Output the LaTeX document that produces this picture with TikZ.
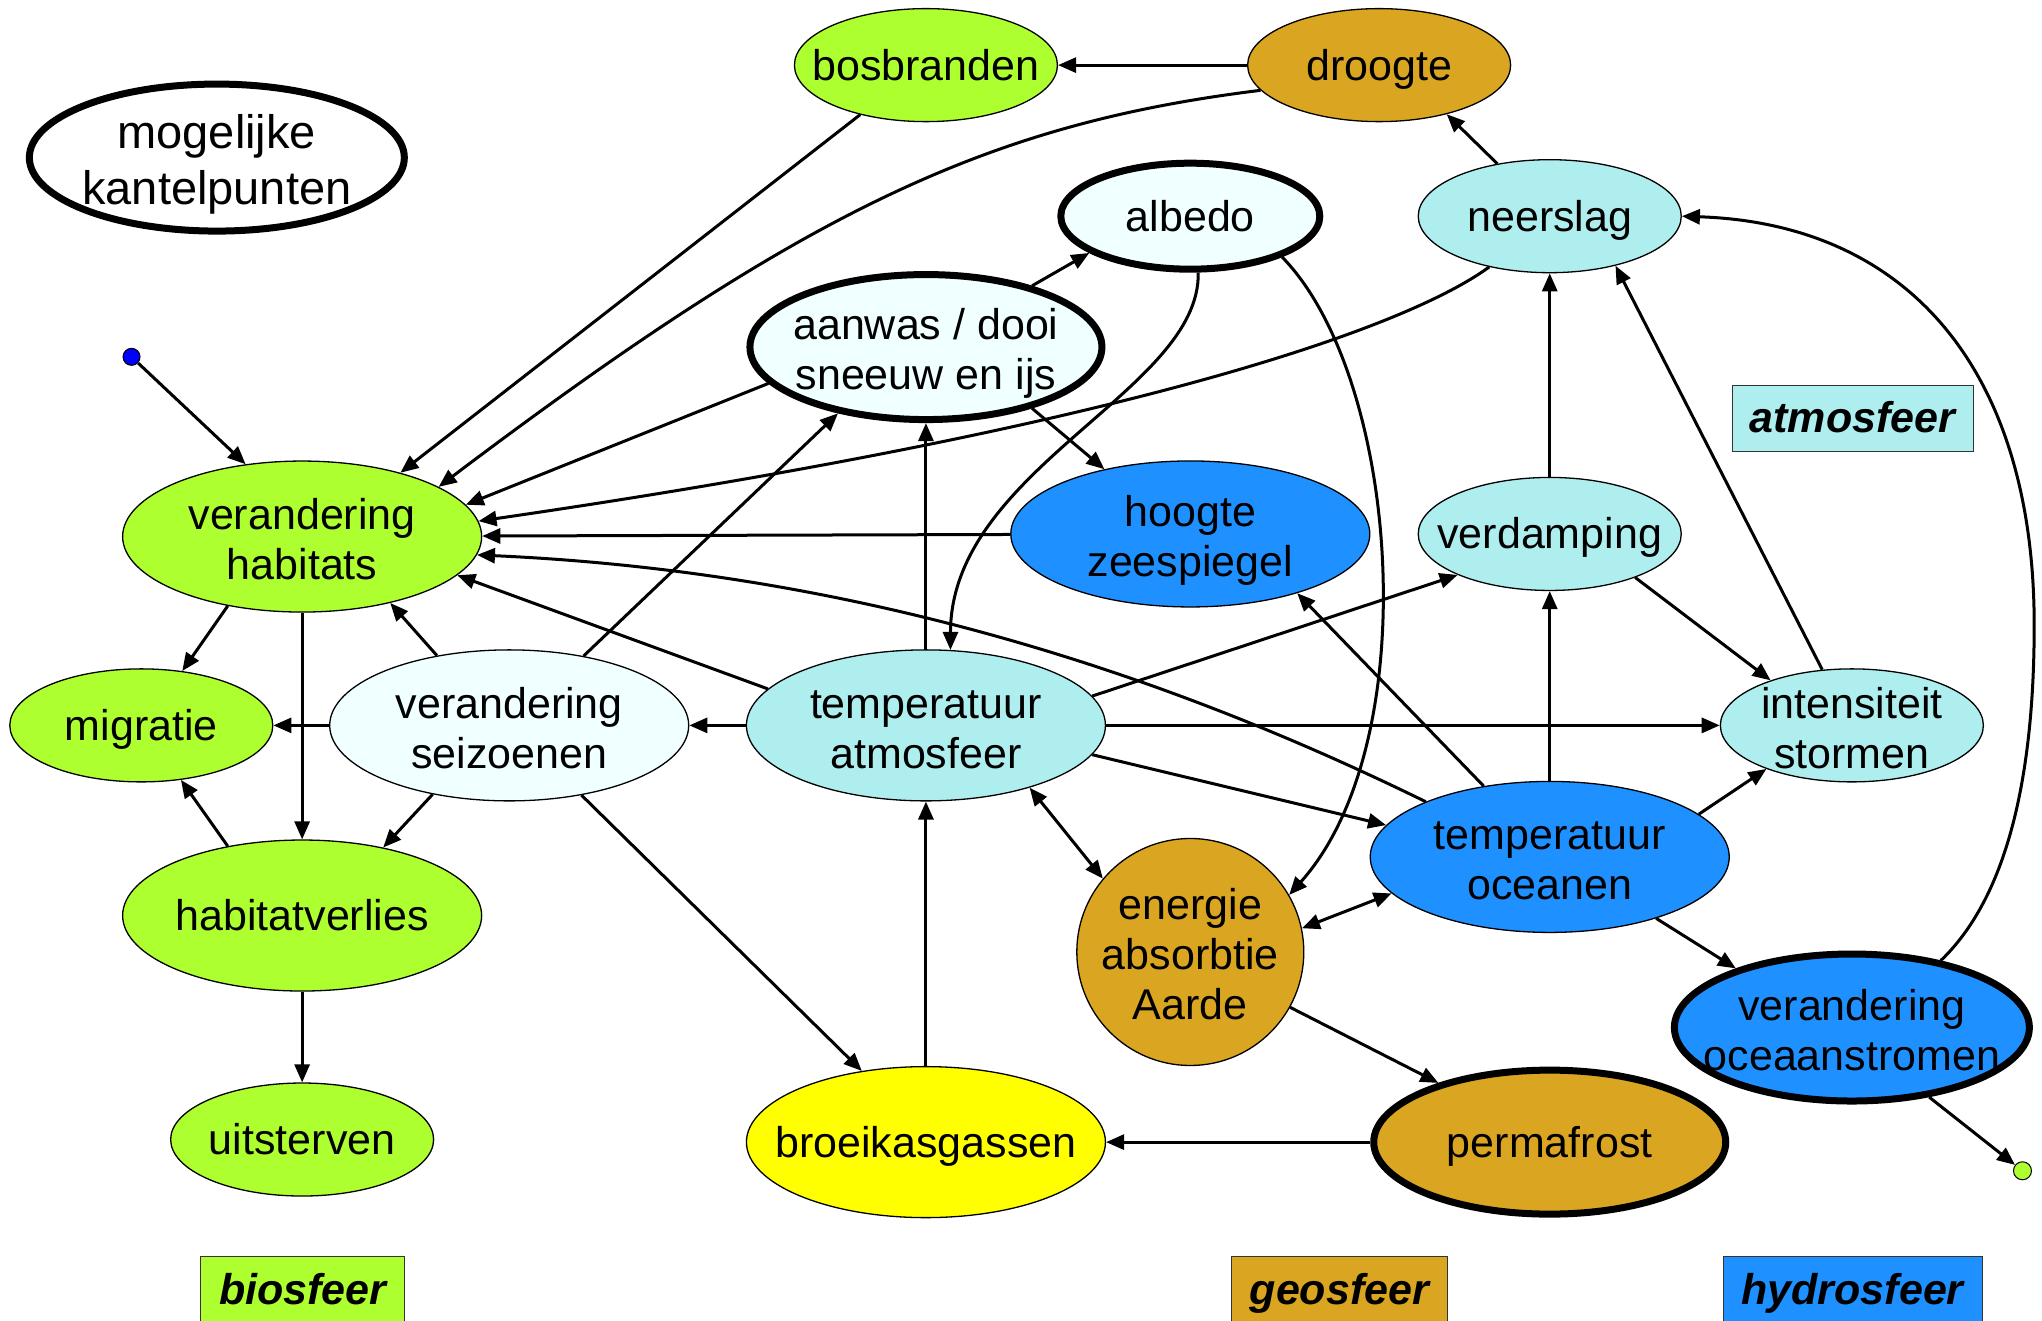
\documentclass[tikz,border=0pt]{standalone}
\usepackage{fontspec}
\setmainfont{Liberation Sans}
\usetikzlibrary{shapes.geometric,arrows.meta}
\definecolor{bio}{HTML}{ADFF2F}
\definecolor{geo}{HTML}{DAA520}
\definecolor{atm}{HTML}{AFEEEE}
\definecolor{pale}{HTML}{F0FFFF}
\definecolor{hyd}{HTML}{1E90FF}
\definecolor{gas}{HTML}{FFFF00}
% invisible strut giving every text line the same ascent and descent
\newcommand\lnstrut{\rule[-0.212em]{0pt}{1.117em}}
\begin{document}
\begin{tikzpicture}[x=1.3023pt, y=-1.3023pt,
  tx/.style={align=center, inner sep=0pt, font=\fontsize{43}{50}\selectfont},
  txm/.style={tx, yshift=-3pt},
  ell/.style={ellipse, draw, line width=1.3pt, inner sep=0pt},
  small/.style={ell, minimum width=263pt, minimum height=113pt},
  big/.style={ell, minimum width=359pt, minimum height=151pt},
  heavy/.style={ellipse, draw, line width=7pt, inner sep=0pt},
  con/.style={line width=3pt, -{Triangle[length=18pt,width=15pt]}},
  both/.style={line width=3pt, {Triangle[length=18pt,width=15pt]}-{Triangle[length=18pt,width=15pt]}},
  legend/.style={draw=black!80, line width=1pt, minimum height=66pt, inner sep=0pt,
    font=\fontsize{43}{50}\selectfont\bfseries\itshape}
]
\useasboundingbox (0,0) rectangle (1568,1013.6);

% nodes
\node[small, fill=bio] (bos) at (711,50) {};
\node[tx] (bos-t) at (bos) {\lnstrut bosbranden};
\node[small, fill=geo] (dro) at (1059,50) {};
\node[tx] (dro-t) at (dro) {\lnstrut droogte};
\node[heavy, fill=white, minimum width=375pt, minimum height=147pt] (kp) at (166.5,121) {};
\node[txm, font=\fontsize{47}{56}\selectfont] (kp-t) at (kp) {\lnstrut mogelijke\\\lnstrut kantelpunten};
\node[heavy, fill=pale, minimum width=259pt, minimum height=106pt] (alb) at (914,166) {};
\node[tx] (alb-t) at (alb) {\lnstrut albedo};
\node[small, fill=atm] (neer) at (1190,166) {};
\node[tx] (neer-t) at (neer) {\lnstrut neerslag};
\node[heavy, fill=pale, minimum width=352pt, minimum height=145pt] (aan) at (711,266.5) {};
\node[txm] (aan-t) at (aan) {\lnstrut aanwas / dooi\\\lnstrut sneeuw en ijs};
\node[big, fill=bio] (hab) at (232,412) {};
\node[txm] (hab-t) at (hab) {\lnstrut verandering\\\lnstrut habitats};
\node[big, fill=hyd, minimum height=146pt] (hz) at (914,410) {};
\node[txm] (hz-t) at (hz) {\lnstrut hoogte\\\lnstrut zeespiegel};
\node[small, fill=atm] (verd) at (1190,410) {};
\node[tx] (verd-t) at (verd) {\lnstrut verdamping};
\node[small, fill=bio] (mig) at (108.5,557) {};
\node[tx] (mig-t) at (mig) {\lnstrut migratie};
\node[big, fill=pale] (seiz) at (391,557) {};
\node[txm] (seiz-t) at (seiz) {\lnstrut verandering\\\lnstrut seizoenen};
\node[big, fill=atm] (ta) at (711,557) {};
\node[txm] (ta-t) at (ta) {\lnstrut temperatuur\\\lnstrut atmosfeer};
\node[small, fill=atm] (int) at (1422,557) {};
\node[txm] (int-t) at (int) {\lnstrut intensiteit\\\lnstrut stormen};
\node[big, fill=hyd] (to) at (1190,658) {};
\node[txm] (to-t) at (to) {\lnstrut temperatuur\\\lnstrut oceanen};
\node[big, fill=bio] (hv) at (232,703) {};
\node[tx] (hv-t) at (hv) {\lnstrut habitatverlies};
\node[circle, draw, line width=1.3pt, inner sep=0pt, fill=geo, minimum size=227pt] (en) at (914,731) {};
\node[txm] (en-t) at (en) {\lnstrut energie\\\lnstrut absorbtie\\\lnstrut Aarde};
\node[heavy, fill=hyd, minimum width=355pt, minimum height=147pt] (os) at (1422,789) {};
\node[txm] (os-t) at (os) {\lnstrut verandering\\\lnstrut oceaanstromen};
\node[small, fill=bio] (uit) at (232,875) {};
\node[tx] (uit-t) at (uit) {\lnstrut uitsterven};
\node[big, fill=gas] (bkg) at (711,877) {};
\node[tx] (bkg-t) at (bkg) {\lnstrut broeikasgassen};
\node[heavy, fill=geo, minimum width=352pt, minimum height=144pt] (perm) at (1190,877) {};
\node[tx] (perm-t) at (perm) {\lnstrut permafrost};

% loose ends
\node[circle, draw, line width=1pt, fill=blue, inner sep=0pt, minimum size=17pt] (bdot) at (101,274) {};
\node[circle, draw, line width=1pt, fill=bio, inner sep=0pt, minimum size=18pt] (gdot) at (1553,899) {};

% legend
\node[legend, fill=atm, minimum width=241pt] (l-atm) at (1422.5,321) {\lnstrut atmosfeer};
\node[legend, fill=bio, minimum width=204pt] (l-bio) at (232.5,990.5) {\lnstrut biosfeer};
\node[legend, fill=geo, minimum width=216pt] (l-geo) at (1028.5,990.5) {\lnstrut geosfeer};
\node[legend, fill=hyd, minimum width=259pt] (l-hyd) at (1422.5,990.5) {\lnstrut hydrosfeer};

% connectors
\draw[con] (dro) -- (bos);
\draw[con] (bos.217) -- (hab.33);
\draw[con] (dro.192) .. controls (760,95) and (620,160) .. (hab.20);
\draw[con] (aan.193) -- (hab.11);
\draw[con] (neer.220) .. controls (1075,255) and (850,330) .. (hab.5);
\draw[con] (hz) -- (hab);
\draw[con] (to.156) .. controls (920,530) and (680,440) .. (hab.354);
\draw[con] (ta.167) -- (hab.346);
\draw[con] (seiz.136) -- (hab.323);
\draw[con] (hab.223) -- (mig.53);
\draw[con] (hab) -- (hv);
\draw[con] (seiz) -- (mig);
\draw[con] (ta) -- (seiz);
\draw[con] (seiz.222) -- (hv.40);
\draw[con] (hv.137) -- (mig.306);
\draw[con] (hv) -- (uit);
\draw[con] (seiz.43) -- (aan.217);
\draw[con] (seiz.316) -- (bkg.132);
\draw[con] (ta) -- (aan);
\draw[con] (aan.30) -- (alb.200);
\draw[con] (aan.330) -- (hz.143);
\draw[con] (alb.278) .. controls (922,300) and (730,360) .. (ta.72);
\draw[con] (alb.336) .. controls (1075,290) and (1095,570) .. (en.30);
\draw[con] (bkg) -- (ta);
\draw[both] (ta.329) -- (en.140);
\draw[con] (ta.10) -- (verd.204);
\draw[con] (ta) -- (int);
\draw[con] (ta.350) -- (to.169);
\draw[con] (to.133) -- (hz.331);
\draw[con] (to) -- (verd);
\draw[con] (verd) -- (neer);
\draw[con] (neer.135) -- (dro.324);
\draw[con] (verd.333) -- (int.151);
\draw[con] (int.118) -- (neer.323);
\draw[con] (to.16) -- (int.207);
\draw[both] (en.12) -- (to.193);
\draw[con] (to.330) -- (os.153);
\draw[con] (os.37) .. controls (1540,690) and (1562,600) .. (1562,480)
  .. controls (1562,290) and (1470,172) .. (neer.0);
\draw[con] (en.331) -- (perm.152);
\draw[con] (perm) -- (bkg);
\draw[con] (bdot) -- (hab.128);
\draw[con] (os.318) -- (gdot);
\end{tikzpicture}
\end{document}
